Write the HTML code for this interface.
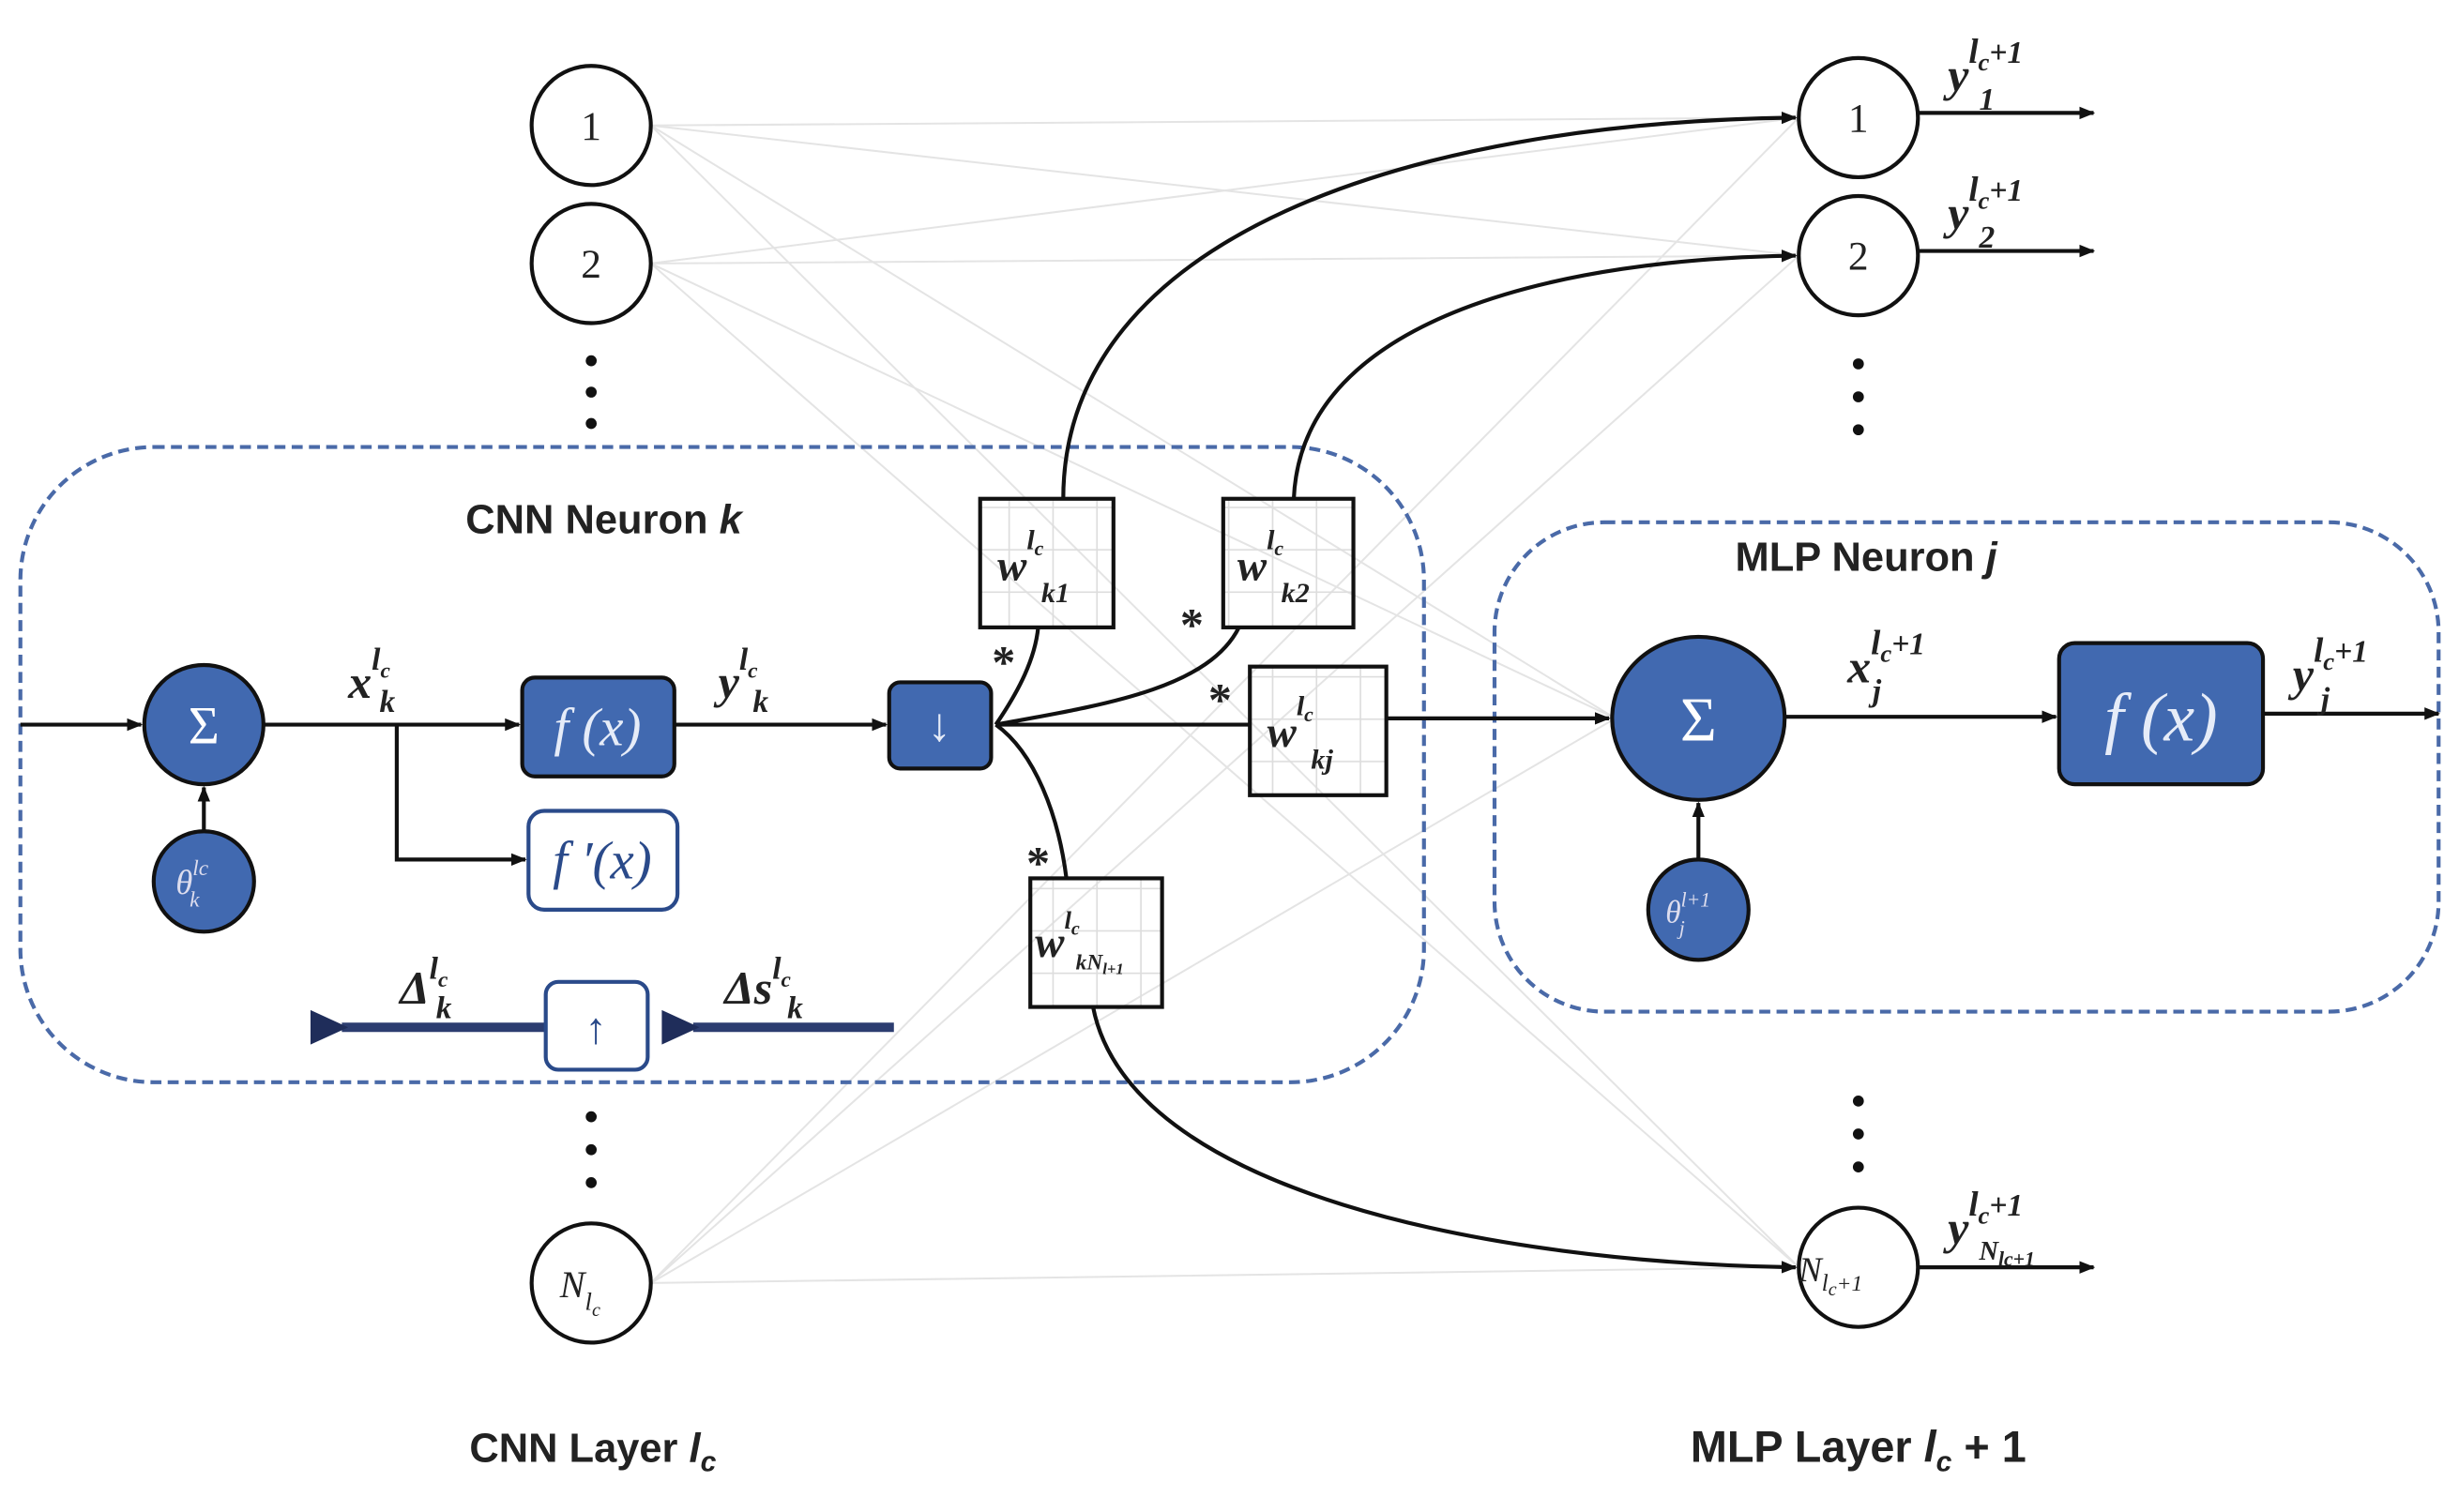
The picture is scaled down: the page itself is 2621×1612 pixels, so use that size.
<!DOCTYPE html>
<html><head><meta charset="utf-8"><style>
html,body{margin:0;padding:0;background:#fff;}
svg{display:block;}
text{font-family:"Liberation Serif",serif;}
.b{font-family:"Liberation Sans",sans-serif;font-weight:bold;fill:#222;}
.m{font-style:italic;fill:#222;}
</style></head><body>
<svg width="2621" height="1612" viewBox="0 0 1568 964" preserveAspectRatio="none" xmlns="http://www.w3.org/2000/svg">
<defs>
<marker id="a" markerWidth="10" markerHeight="10" refX="9" refY="5" orient="auto" markerUnits="userSpaceOnUse"><path d="M0,1 L10,5 L0,9 z" fill="#111"/></marker>
<marker id="an" markerWidth="26" markerHeight="26" refX="4" refY="13" orient="auto" markerUnits="userSpaceOnUse"><path d="M0,13 L24,2 L24,24 z" fill="#1f2d5a"/></marker>
<pattern id="g" width="28" height="27" patternUnits="userSpaceOnUse"><path d="M28,0 V27 M0,27 H28" stroke="#ddd" stroke-width="2" fill="none"/></pattern>
</defs>
<!-- faint connections -->
<g stroke="#e4e4e4" stroke-width="1.2" fill="none">
<path d="M415,80 L1147,75 M415,80 L1147,163 M415,80 L1030,458 M415,80 L1147,808"/>
<path d="M415,168 L1147,75 M415,168 L1147,163 M415,168 L1030,458 M415,168 L1147,808"/>
<path d="M415,818 L1147,75 M415,818 L1147,163 M415,818 L1030,458 M415,818 L1147,808"/>
</g>
<!-- dashed boxes -->
<rect x="13" y="285" width="895" height="405" rx="85" fill="none" stroke="#4a6aa8" stroke-width="2.5" stroke-dasharray="7,4"/>
<rect x="953" y="333" width="602" height="312" rx="70" fill="none" stroke="#4a6aa8" stroke-width="2.5" stroke-dasharray="7,4"/>
<!-- left nodes -->
<g fill="#fff" stroke="#111" stroke-width="2.5">
<circle cx="377" cy="80" r="38"/><circle cx="377" cy="168" r="38"/><circle cx="377" cy="818" r="38"/>
<circle cx="1185" cy="75" r="38"/><circle cx="1185" cy="163" r="38"/><circle cx="1185" cy="808" r="38"/>
</g>
<g font-size="26" text-anchor="middle" fill="#222">
<text x="377" y="89">1</text><text x="377" y="177">2</text>
<text x="1185" y="84">1</text><text x="1185" y="172">2</text>
</g>
<text x="357" y="827" class="m" font-size="24">N<tspan font-size="16" dy="8">l</tspan><tspan font-size="12" dy="4">c</tspan></text>
<text x="1147" y="817" class="m" font-size="22">N<tspan font-size="15" dy="6">l</tspan><tspan font-size="12" dy="3">c</tspan><tspan font-size="14" dy="-3">+1</tspan></text>
<g fill="#111">
<circle cx="377" cy="230" r="3.5"/><circle cx="377" cy="250" r="3.5"/><circle cx="377" cy="270" r="3.5"/>
<circle cx="377" cy="712" r="3.5"/><circle cx="377" cy="733" r="3.5"/><circle cx="377" cy="754" r="3.5"/>
<circle cx="1185" cy="232" r="3.5"/><circle cx="1185" cy="253" r="3.5"/><circle cx="1185" cy="274" r="3.5"/>
<circle cx="1185" cy="702" r="3.5"/><circle cx="1185" cy="723" r="3.5"/><circle cx="1185" cy="744" r="3.5"/>
</g>
<!-- output arrows -->
<g stroke="#111" stroke-width="2.5" marker-end="url(#a)">
<line x1="1223" y1="72" x2="1335" y2="72"/><line x1="1223" y1="160" x2="1335" y2="160"/><line x1="1223" y1="808" x2="1335" y2="808"/>
<line x1="1443" y1="455" x2="1555" y2="455"/>
</g>
<g class="m" font-size="30" font-weight="bold">
<text x="1242" y="58">y<tspan font-size="22" dy="-18">l</tspan><tspan font-size="16" dy="5">c</tspan><tspan font-size="20" dy="-5">+1</tspan><tspan font-size="20" x="1262" dy="30">1</tspan></text>
<text x="1242" y="146">y<tspan font-size="22" dy="-18">l</tspan><tspan font-size="16" dy="5">c</tspan><tspan font-size="20" dy="-5">+1</tspan><tspan font-size="20" x="1262" dy="30">2</tspan></text>
<text x="1242" y="793">y<tspan font-size="22" dy="-18">l</tspan><tspan font-size="16" dy="5">c</tspan><tspan font-size="20" dy="-5">+1</tspan><tspan font-size="17" x="1262" dy="28">N</tspan><tspan font-size="13" dy="4">lc+1</tspan></text>
<text x="1462" y="440">y<tspan font-size="22" dy="-18">l</tspan><tspan font-size="16" dy="5">c</tspan><tspan font-size="20" dy="-5">+1</tspan><tspan font-size="20" x="1480" dy="30">j</tspan></text>
<text x="1178" y="435">x<tspan font-size="22" dy="-18">l</tspan><tspan font-size="16" dy="5">c</tspan><tspan font-size="20" dy="-5">+1</tspan><tspan font-size="20" x="1194" dy="30">j</tspan></text>
</g>
<!-- CNN main path -->
<g stroke="#111" stroke-width="2.5" fill="none">
<line x1="13" y1="462" x2="90" y2="462" marker-end="url(#a)"/>
<line x1="168" y1="462" x2="331" y2="462" marker-end="url(#a)"/>
<path d="M253,462 V548 H335" marker-end="url(#a)"/>
<line x1="430" y1="462" x2="565" y2="462" marker-end="url(#a)"/>
<line x1="130" y1="530" x2="130" y2="502" marker-end="url(#a)"/>
<line x1="635" y1="462" x2="797" y2="462"/>
<line x1="884" y1="458" x2="1026" y2="458" marker-end="url(#a)"/>
<line x1="1138" y1="457" x2="1311" y2="457" marker-end="url(#a)"/>
<line x1="1083" y1="548" x2="1083" y2="512" marker-end="url(#a)"/>
<path d="M635,462 C650,440 660,420 662,400"/>
<path d="M635,462 C700,450 770,440 790,400"/>
<path d="M635,462 C660,480 675,520 680,560"/>
<path d="M678,318 C678,150 900,78 1145,75" marker-end="url(#a)"/>
<path d="M825,318 C830,200 1000,165 1145,163" marker-end="url(#a)"/>
<path d="M697,642 C720,760 950,805 1145,808" marker-end="url(#a)"/>
</g>
<!-- Sigma nodes -->
<circle cx="130" cy="462" r="38" fill="#4169b0" stroke="#111" stroke-width="2.5"/>
<text x="130" y="474" font-size="34" fill="#fff" text-anchor="middle">Σ</text>
<circle cx="130" cy="562" r="32" fill="#4169b0" stroke="#111" stroke-width="2.5"/>
<text x="112" y="570" font-size="22" fill="#dde" font-style="italic">θ<tspan font-size="14" dy="-12">lc</tspan><tspan font-size="14" dx="-12" dy="20">k</tspan></text>
<ellipse cx="1083" cy="458" rx="55" ry="52" fill="#4169b0" stroke="#111" stroke-width="2.5"/>
<text x="1083" y="472" font-size="40" fill="#fff" text-anchor="middle">Σ</text>
<circle cx="1083" cy="580" r="32" fill="#4169b0" stroke="#111" stroke-width="2.5"/>
<text x="1062" y="588" font-size="20" fill="#dde" font-style="italic">θ<tspan font-size="13" dy="-10">l+1</tspan><tspan font-size="13" dx="-20" dy="18">j</tspan></text>
<!-- function boxes -->
<rect x="333" y="432" width="97" height="63" rx="8" fill="#4169b0" stroke="#111" stroke-width="2.5"/>
<text x="381" y="475" font-size="34" fill="#e6ecf8" text-anchor="middle" font-style="italic">f (x)</text>
<rect x="337" y="517" width="95" height="63" rx="10" fill="#fff" stroke="#2a4a8a" stroke-width="2.5"/>
<text x="384" y="560" font-size="34" fill="#2a4a8a" text-anchor="middle" font-style="italic">f ′(x)</text>
<rect x="567" y="435" width="65" height="55" rx="7" fill="#4169b0" stroke="#111" stroke-width="2.5"/>
<text x="599" y="472" font-size="30" fill="#e6ecf8" text-anchor="middle">↓</text>
<rect x="1313" y="410" width="130" height="90" rx="10" fill="#4169b0" stroke="#111" stroke-width="2.5"/>
<text x="1378" y="472" font-size="44" fill="#e6ecf8" text-anchor="middle" font-style="italic">f (x)</text>
<!-- weight boxes -->
<g stroke="#111" stroke-width="2.5">
<rect x="625" y="318" width="85" height="82" fill="url(#g)"/>
<rect x="780" y="318" width="83" height="82" fill="url(#g)"/>
<rect x="797" y="425" width="87" height="82" fill="url(#g)"/>
<rect x="657" y="560" width="84" height="82" fill="url(#g)"/>
</g>
<g class="m" font-size="28" font-weight="bold">
<text x="636" y="370">w<tspan font-size="18" dy="-20">l</tspan><tspan font-size="13" dy="4">c</tspan><tspan font-size="18" x="664" dy="30">k1</tspan></text>
<text x="789" y="370">w<tspan font-size="18" dy="-20">l</tspan><tspan font-size="13" dy="4">c</tspan><tspan font-size="18" x="817" dy="30">k2</tspan></text>
<text x="808" y="476">w<tspan font-size="18" dy="-20">l</tspan><tspan font-size="13" dy="4">c</tspan><tspan font-size="18" x="836" dy="30">kj</tspan></text>
<text x="660" y="610">w<tspan font-size="16" dy="-18">l</tspan><tspan font-size="12" dy="4">c</tspan><tspan font-size="14" x="686" dy="22">kN</tspan><tspan font-size="10" dy="3">l+1</tspan></text>
</g>
<g font-size="30" font-weight="bold" fill="#222" text-anchor="middle">
<text x="640" y="432">*</text><text x="760" y="408">*</text><text x="778" y="456">*</text><text x="662" y="560">*</text>
</g>
<!-- labels CNN -->
<g class="m" font-size="30" font-weight="bold">
<text x="222" y="445">x<tspan font-size="20" dy="-18">l</tspan><tspan font-size="14" dy="5">c</tspan><tspan font-size="20" x="242" dy="22">k</tspan></text>
<text x="458" y="445">y<tspan font-size="20" dy="-18">l</tspan><tspan font-size="14" dy="5">c</tspan><tspan font-size="20" x="480" dy="22">k</tspan></text>
<text x="255" y="640">Δ<tspan font-size="20" dy="-16">l</tspan><tspan font-size="14" dy="5">c</tspan><tspan font-size="20" x="278" dy="20">k</tspan></text>
<text x="462" y="640">Δs<tspan font-size="20" dy="-16">l</tspan><tspan font-size="14" dy="5">c</tspan><tspan font-size="20" x="502" dy="20">k</tspan></text>
</g>
<!-- backward arrow -->
<g stroke="#2c3d70" stroke-width="6" fill="none">
<line x1="570" y1="655" x2="442" y2="655" marker-end="url(#an)"/>
<line x1="348" y1="655" x2="218" y2="655" marker-end="url(#an)"/>
</g>
<rect x="348" y="626" width="65" height="56" rx="8" fill="#fff" stroke="#2a4a8a" stroke-width="2.5"/>
<text x="380" y="665" font-size="28" fill="#2a4a8a" text-anchor="middle">↑</text>
<!-- titles -->
<text x="385" y="340" class="b" font-size="26" text-anchor="middle">CNN Neuron <tspan font-style="italic">k</tspan></text>
<text x="1190" y="364" class="b" font-size="26" text-anchor="middle">MLP Neuron <tspan font-style="italic">j</tspan></text>
<text x="378" y="932" class="b" font-size="26" text-anchor="middle">CNN Layer <tspan font-style="italic">l</tspan><tspan font-size="18" dy="6" font-style="italic">c</tspan></text>
<text x="1185" y="932" class="b" font-size="28" text-anchor="middle">MLP Layer <tspan font-style="italic">l</tspan><tspan font-size="18" dy="6" font-style="italic">c</tspan><tspan dy="-6"> + 1</tspan></text>
</svg>
</body></html>
